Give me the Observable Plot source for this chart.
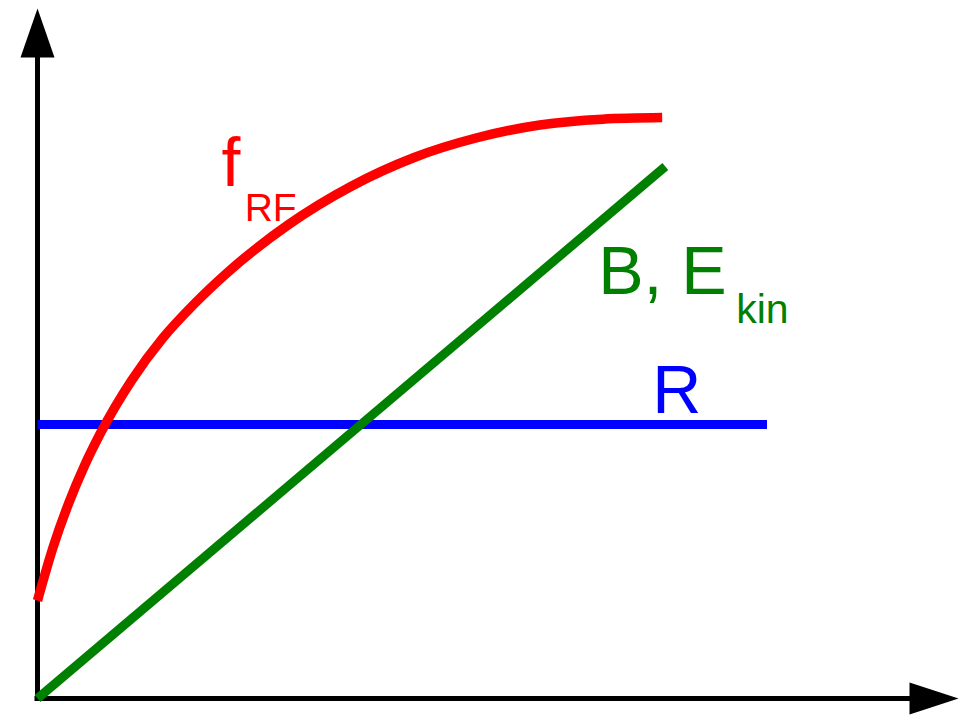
<!DOCTYPE html>
<html>
<head>
<meta charset="utf-8">
<script src="https://cdn.jsdelivr.net/npm/d3@7"></script>
<script src="https://cdn.jsdelivr.net/npm/@observablehq/plot@0.6"></script>
<style>
  html, body { margin: 0; padding: 0; background: #fff; }
  #chart svg { display: block; }
</style>
</head>
<body>
<div id="chart"></div>
<script>
// ---- Data (schematic units) ----
const fRF_x = [0, 0.25, 0.5, 0.75, 1.0, 1.5, 2.0, 2.5, 3.0, 4.0, 5.0, 6.0, 7.0, 8.0, 9.0, 9.95];
const fRF_y = [1.84, 2.85, 3.68, 4.38, 4.98, 5.98, 6.78, 7.42, 7.98, 8.91, 9.63, 10.17, 10.54, 10.78, 10.89, 10.92];
const B_x = [0, 10];
const B_y = [0, 10];
const R_x = [0, 11.62];
const R_value = 5.15;
const labelTexts = ["f", "RF", "B, E", "kin", "R"];

const fRF = fRF_x.map((x, i) => ({x, y: fRF_y[i]}));
const Bline = B_x.map((x, i) => ({x, y: B_y[i]}));
const Rline = R_x.map(x => ({x, y: R_value}));

// custom filled arrow-head symbol (tip at origin, pointing up)
function arrowHead(len, half) {
  return {
    draw(context) {
      context.moveTo(0, 0);
      context.lineTo(half, len);
      context.lineTo(-half, len);
      context.closePath();
    }
  };
}

const red = "#ff0000", green = "#008000", blue = "#0000ff";
const font = "Liberation Sans, Arial, Helvetica, sans-serif";

const chart = Plot.plot({
  width: 976,
  height: 716,
  marginLeft: 37,
  marginRight: 18,
  marginTop: 8,
  marginBottom: 18,
  x: {domain: [0, 14.67], axis: null},
  y: {domain: [0, 12.97], axis: null},
  style: {fontFamily: font, background: "#fff", overflow: "visible"},
  marks: [
    // axes
    Plot.ruleX([0], {y1: -0.05, y2: 12.2, stroke: "black", strokeWidth: 5}),
    Plot.ruleY([0], {x1: -0.04, x2: 14.0, stroke: "black", strokeWidth: 5}),
    Plot.dot([{x: 0, y: 12.97}], {x: "x", y: "y", symbol: arrowHead(49, 17), fill: "black", stroke: null, r: 10}),
    Plot.dot([{x: 14.67, y: 0}], {x: "x", y: "y", symbol: arrowHead(49, 16), rotate: 90, fill: "black", stroke: null, r: 10}),
    // series
    Plot.line(Rline, {x: "x", y: "y", stroke: blue, strokeWidth: 9, strokeLinecap: "butt"}),
    Plot.line(Bline, {x: "x", y: "y", stroke: green, strokeWidth: 9, strokeLinecap: "butt"}),
    Plot.line(fRF, {x: "x", y: "y", stroke: red, strokeWidth: 9.5, strokeLinecap: "butt", curve: "monotone-x"}),
    // labels
    Plot.text([labelTexts[0]], {x: 2.93, y: 9.64, text: d => d, fill: red, fontSize: 68, textAnchor: "start", lineAnchor: "bottom"}),
    Plot.text([labelTexts[1]], {x: 3.30, y: 8.98, text: d => d, fill: red, fontSize: 39, textAnchor: "start", lineAnchor: "bottom"}),
    Plot.text([labelTexts[2]], {x: 8.93, y: 7.61, text: d => d, fill: green, fontSize: 68, textAnchor: "start", lineAnchor: "bottom"}),
    Plot.text([labelTexts[3]], {x: 11.13, y: 7.05, text: d => d, fill: green, fontSize: 41, textAnchor: "start", lineAnchor: "bottom"}),
    Plot.text([labelTexts[4]], {x: 9.79, y: 5.36, text: d => d, fill: blue, fontSize: 68, textAnchor: "start", lineAnchor: "bottom"})
  ]
});
document.getElementById("chart").append(chart);
</script>
</body>
</html>
